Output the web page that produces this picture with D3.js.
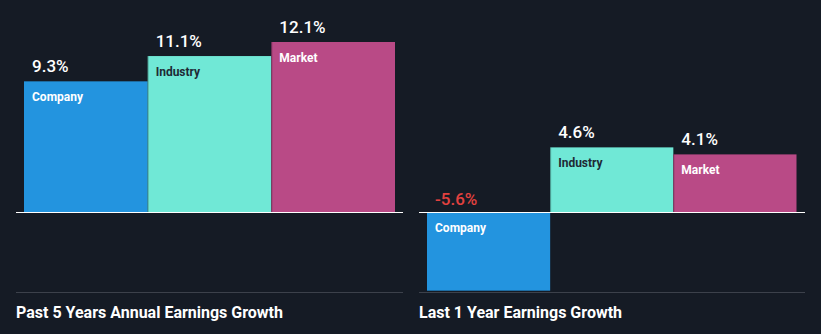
<!DOCTYPE html>
<html><head><meta charset="utf-8">
<script src="https://cdn.jsdelivr.net/npm/d3@7"></script>
<style>
html,body{margin:0;padding:0;background:#151b25;}
svg{display:block;font-family:Roboto,"Noto Sans",sans-serif;}
</style></head>
<body>
<svg id="chart" width="821" height="334"></svg>
<script>
const categories = ["Company", "Industry", "Market"];
const past5Years = [9.3, 11.1, 12.1];
const last1Year = [-5.6, 4.6, 4.1];
const panelTitles = ["Past 5 Years Annual Earnings Growth", "Last 1 Year Earnings Growth"];
const colors = ["#2394df", "#70e8d6", "#b94a86"];
const labelColors = ["#ffffff", "#1e2a35", "#ffffff"];

const svg = d3.select("#chart");
const W = 821, H = 334;
svg.append("rect").attr("width", W).attr("height", H).attr("fill", "#151b25");

const y = d3.scaleLinear().domain([0, 12.1]).range([212, 42]);

const panels = [
  {values: past5Years, title: panelTitles[0], x0: 16, x1: 403, b0: 24, b1: 395},
  {values: last1Year, title: panelTitles[1], x0: 419, x1: 805, b0: 427, b1: 796.5}
];

panels.forEach(p => {
  const g = svg.append("g");
  const x = d3.scaleBand().domain(categories).range([p.b0, p.b1]).padding(0);
  const data = categories.map((c, i) => ({c, v: p.values[i], i}));

  g.selectAll("rect.bar").data(data).enter().append("rect")
    .attr("class", "bar")
    .attr("x", d => x(d.c))
    .attr("width", x.bandwidth())
    .attr("y", d => Math.min(y(d.v), y(0)))
    .attr("height", d => Math.abs(y(d.v) - y(0)))
    .attr("fill", d => colors[d.i]);

  // subtle left edges
  g.selectAll("line.edge").data(data.filter(d => d.i > 0)).enter().append("line")
    .attr("x1", d => x(d.c) + 0.5).attr("x2", d => x(d.c) + 0.5)
    .attr("y1", d => Math.min(y(d.v), y(0))).attr("y2", d => Math.max(y(d.v), y(0)))
    .attr("stroke", "rgba(0,0,0,0.25)").attr("stroke-width", 1);

  // category labels inside bars
  g.selectAll("text.cat").data(data).enter().append("text")
    .attr("x", d => x(d.c) + 8)
    .attr("y", d => Math.min(y(d.v), y(0)) + 20)
    .attr("fill", d => labelColors[d.i])
    .attr("font-size", 12).attr("font-weight", 700)
    .text(d => d.c);

  // value labels
  g.selectAll("text.val").data(data).enter().append("text")
    .attr("x", d => x(d.c) + 8)
    .attr("y", d => d.v >= 0 ? y(d.v) - 9 : y(0) - 7.5)
    .attr("fill", d => d.v >= 0 ? "#ffffff" : "#e2413f")
    .attr("font-size", 17).attr("font-weight", 500)
    .text(d => d.v.toFixed(1) + "%");

  // baseline
  g.append("line").attr("x1", p.x0).attr("x2", p.x1)
    .attr("y1", y(0) + 0.5).attr("y2", y(0) + 0.5)
    .attr("stroke", "#ffffff").attr("stroke-width", 1.2);

  // bottom separator
  g.append("line").attr("x1", p.x0).attr("x2", p.x1)
    .attr("y1", 292.5).attr("y2", 292.5)
    .attr("stroke", "#3c414b").attr("stroke-width", 1);

  g.append("text").attr("x", p.x0).attr("y", 318)
    .attr("fill", "#ffffff").attr("font-size", 16).attr("font-weight", 700)
    .text(p.title);
});
</script>
</body></html>
